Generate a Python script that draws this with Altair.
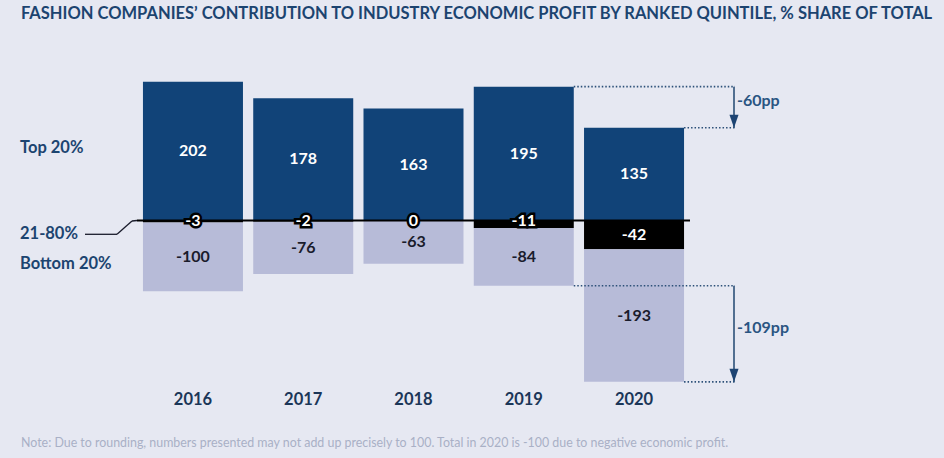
import altair as alt
import pandas as pd

# Economic profit share by ranked quintile, % of total
years = ["2016", "2017", "2018", "2019", "2020"]
top20 = [202, 178, 163, 195, 135]
mid60 = [-3, -2, 0, -11, -42]
bottom20 = [-100, -76, -63, -84, -193]
segments = ["Top 20%", "21-80%", "Bottom 20%"]
seg_colors = ["#114378", "#000000", "#b7bbd8"]

BG = "#e6e8f2"
NAVY_TEXT = "#1c4470"
ANNOT = "#2c5078"
FONT = "Lato"

# stacked segments: top quintile above zero, middle and bottom quintiles below
rows = []
for yr, t, m, b in zip(years, top20, mid60, bottom20):
    rows.append({"year": yr, "seg": "Top 20%", "y0": 0, "y1": t, "val": t})
    rows.append({"year": yr, "seg": "21-80%", "y0": 0, "y1": m, "val": m})
    rows.append({"year": yr, "seg": "Bottom 20%", "y0": m, "y1": m + b, "val": b})
seg_df = pd.DataFrame(rows)
seg_df["mid"] = (seg_df["y0"] + seg_df["y1"]) / 2
seg_df["label"] = seg_df["val"].astype(str)
# thin middle segments get their label on the zero line
seg_df["ly"] = seg_df.apply(
    lambda r: 0 if (r["seg"] == "21-80%" and abs(r["val"]) < 20) else r["mid"], axis=1
)

x_enc = alt.X(
    "year:O",
    scale=alt.Scale(paddingInner=0.093, paddingOuter=0.054),
    axis=alt.Axis(
        title=None, domain=False, ticks=False, tickSize=0, labelAngle=0,
        labelFont=FONT, labelFontSize=16.5, labelFontWeight="bold",
        labelColor="#1b3658", labelBaseline="middle", labelPadding=0,
    ),
)
y_scale = alt.Scale(domain=[-260, 260], nice=False, zero=False)

base = alt.Chart(seg_df)

bars = base.mark_bar().encode(
    x=x_enc,
    y=alt.Y("y0:Q", scale=y_scale, axis=None),
    y2="y1:Q",
    color=alt.Color("seg:N", scale=alt.Scale(domain=segments, range=seg_colors), legend=None),
)

zero_line = alt.Chart(pd.DataFrame({"z": [0]})).mark_rule(color="#000000", strokeWidth=2).encode(
    y=alt.Y("z:Q", scale=y_scale), x=alt.value(0), x2=alt.value(553)
)

halo = base.transform_filter(
    (alt.datum.seg == "21-80%") & (alt.datum.val > -20)
).mark_text(
    font=FONT, fontSize=16, fontWeight="bold", color="#000000",
    stroke="#000000", strokeWidth=5, strokeJoin="miter", baseline="middle",
).encode(x=alt.X("year:O"), y=alt.Y("ly:Q", scale=y_scale), text="label:N")

light_text = base.transform_filter(alt.datum.seg != "Bottom 20%").mark_text(
    font=FONT, fontSize=16, fontWeight="bold", color="#ffffff", baseline="middle"
).encode(x=alt.X("year:O"), y=alt.Y("ly:Q", scale=y_scale), text="label:N")

dark_text = base.transform_filter(alt.datum.seg == "Bottom 20%").mark_text(
    font=FONT, fontSize=16, fontWeight="bold", color="#1a1c2c", baseline="middle"
).encode(x=alt.X("year:O"), y=alt.Y("ly:Q", scale=y_scale), text="label:N")

# change annotations between 2019 and 2020
top_prev, top_last = top20[3], top20[4]
low_prev, low_last = mid60[3] + bottom20[3], mid60[4] + bottom20[4]
top_change = top_last - top_prev
bottom_change = bottom20[4] - bottom20[3]

guide_df = pd.DataFrame({
    "year": ["2019", "2020", "2019", "2020"],
    "yv": [top_prev, top_last, low_prev, low_last],
})
guides = alt.Chart(guide_df).mark_rule(
    color=ANNOT, strokeWidth=1.6, strokeDash=[1.5, 2]
).encode(
    x=alt.X("year:O", bandPosition=1),
    x2=alt.value(598),
    y=alt.Y("yv:Q", scale=y_scale),
)

arrow_df = pd.DataFrame({
    "y_from": [top_prev, low_prev],
    "y_to": [top_last, low_last],
    "txt": [f"{top_change}pp", f"{bottom_change}pp"],
})
arrow_df["y_mid"] = (arrow_df["y_from"] + arrow_df["y_to"]) / 2

arrow_shaft = alt.Chart(arrow_df).mark_rule(color=ANNOT, strokeWidth=1.6).encode(
    x=alt.value(597), y=alt.Y("y_from:Q", scale=y_scale), y2="y_to:Q"
)
arrow_head = alt.Chart(arrow_df).mark_point(
    shape="M-0.7,-1L0.7,-1L0,1Z", filled=True, color="#1d4473", opacity=1, size=169, yOffset=-6.5
).encode(x=alt.value(597), y=alt.Y("y_to:Q", scale=y_scale))
arrow_text = alt.Chart(arrow_df).mark_text(
    font=FONT, fontSize=16, fontWeight="bold", color="#2a5582", align="left", baseline="middle", dy=-6
).encode(x=alt.value(600), y=alt.Y("y_mid:Q", scale=y_scale), text="txt:N")

# quintile names on the left, with a leader line to the zero line
name_df = pd.DataFrame({"name": segments, "py": [106, 191.5, 222]})
names = alt.Chart(name_df).mark_text(
    font=FONT, fontSize=16.5, fontWeight="bold", color=NAVY_TEXT, align="left", baseline="middle"
).encode(x=alt.value(-117), y=alt.Y("py:Q", scale=None), text="name:N")

leader_df = pd.DataFrame({
    "x0": [-52, -20, -5], "x1": [-20, -5, 0],
    "y0": [192.3, 192.3, 179], "y1": [192.3, 179, 178.5],
})
leader = alt.Chart(leader_df).mark_rule(color="#1a1c2c", strokeWidth=1.3).encode(
    x=alt.X("x0:Q", scale=None), x2="x1:Q",
    y=alt.Y("y0:Q", scale=None), y2="y1:Q",
)

title_txt = alt.Chart(pd.DataFrame({"t": ["FASHION COMPANIES\u2019 CONTRIBUTION TO INDUSTRY ECONOMIC PROFIT BY RANKED QUINTILE, % SHARE OF TOTAL"]})).mark_text(
    font=FONT, fontSize=16.5, fontWeight="bold", color=NAVY_TEXT, align="left", baseline="middle"
).encode(x=alt.value(-116), y=alt.value(-28), text="t:N")

note_txt = alt.Chart(pd.DataFrame({"t": ["Note: Due to rounding, numbers presented may not add up precisely to 100. Total in 2020 is -100 due to negative economic profit."]})).mark_text(
    font=FONT, fontSize=12.4, color="#a9b0c6", align="left", baseline="middle"
).encode(x=alt.value(-116), y=alt.value(401), text="t:N")

chart = alt.layer(
    bars, zero_line, halo, light_text, dark_text, guides, arrow_shaft, arrow_head,
    arrow_text, names, leader, title_txt, note_txt,
).properties(
    width=553, height=357,
    padding={"left": 137, "top": 42, "right": 254, "bottom": 59},
    autosize="none",
    background=BG,
).configure_view(stroke=None)

chart.save("out.html", embed_options={"renderer": "svg", "actions": False})
